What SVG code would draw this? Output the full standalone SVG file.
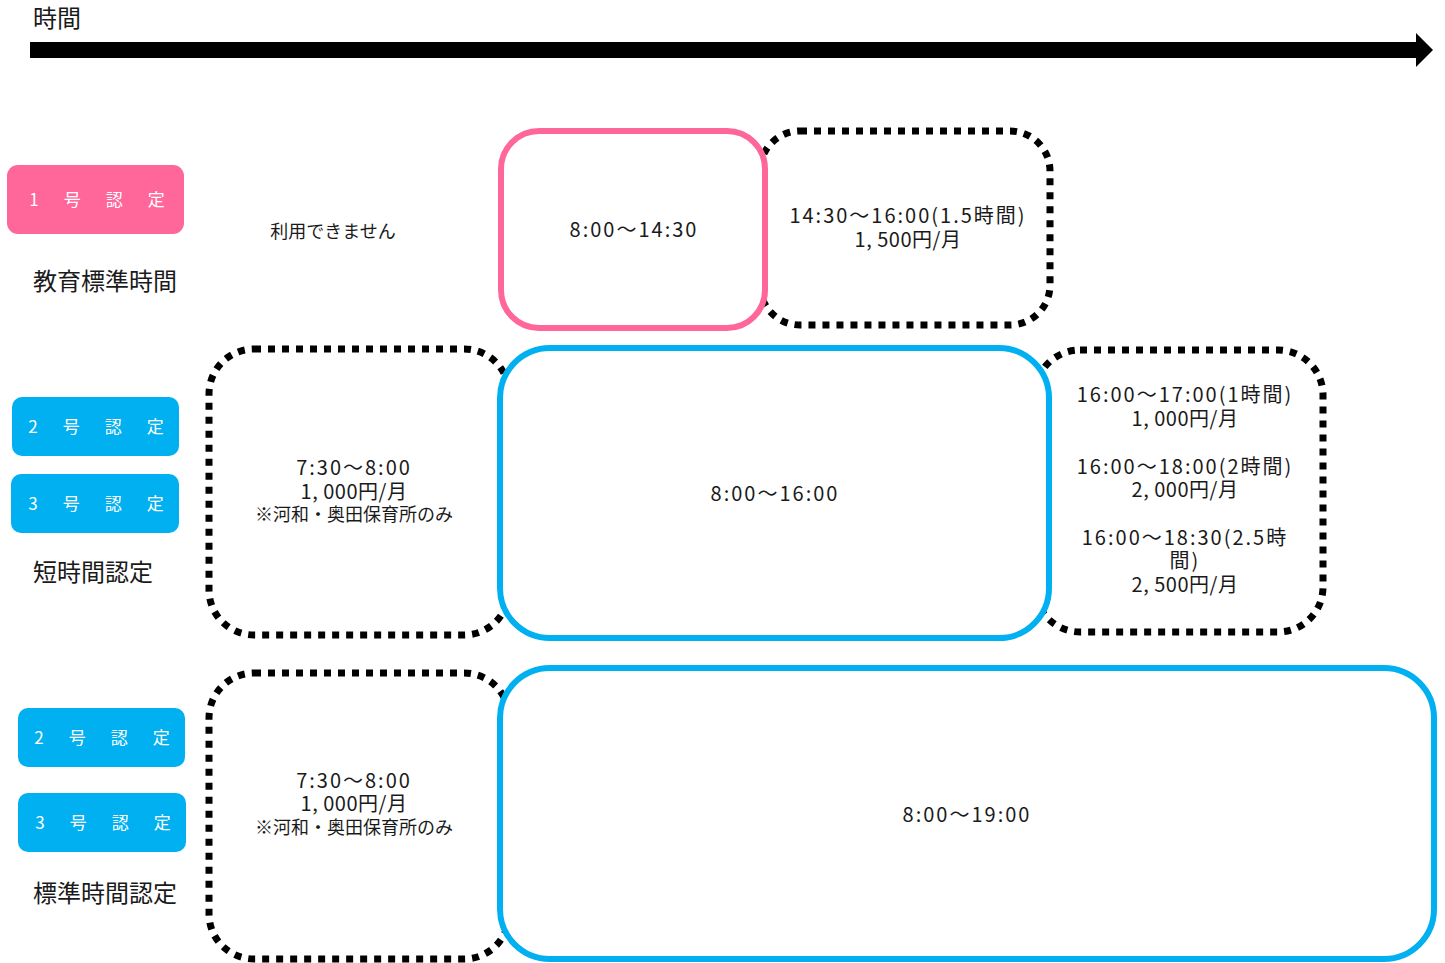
<svg xmlns="http://www.w3.org/2000/svg" width="1445" height="963" viewBox="0 0 1445 963">
<style>
text{font-family:"Noto Sans CJK JP","Noto Sans",sans-serif;fill:#1a1a1a}
.t{font-size:20px;text-anchor:middle;letter-spacing:2px}
.y{font-size:20px;letter-spacing:0.5px}
.s{font-size:18px;letter-spacing:0}
.s1{font-size:18px;text-anchor:middle}
.lbl{font-size:24px}
.badge{font-size:17px;fill:#fff;text-anchor:middle;letter-spacing:4px}
.dot{fill:none;stroke:#000;stroke-width:7;stroke-dasharray:7 7}
.pink{fill:#fff;stroke:#FF6699;stroke-width:6}
.blue{fill:#fff;stroke:#00B0F0;stroke-width:6}
</style>
<rect width="1445" height="963" fill="#fff"/>
<g id="timeaxis">
<text class="lbl" x="33" y="27">時間</text>
<polygon points="30,42 1416,42 1416,33 1433,50 1416,67 1416,58 30,58" fill="#000"/>
</g>
<g id="row1-labels">
<rect x="7" y="165" width="177" height="69" rx="11" fill="#FF6699"/>
<text class="badge" x="99" y="206">1　号　認　定</text>
<text class="lbl" x="33" y="290">教育標準時間</text>
<text class="s1" x="333" y="238">利用できません</text>
</g>
<g id="row1-extra">
<rect class="dot" x="760" y="131" width="290" height="194" rx="40"/>
<text class="t"><tspan x="908" y="223">14:30〜16:00(1.5時間)</tspan><tspan class="y" x="908" y="247">1, 500円/月</tspan></text>
</g>
<g id="row1-main">
<rect class="pink" x="501" y="131" width="264" height="197" rx="38"/>
<text class="t" x="634" y="237">8:00〜14:30</text>
</g>
<g id="row2-labels">
<rect x="12" y="397" width="167" height="59" rx="10" fill="#00B0F0"/>
<text class="badge" x="98" y="433">2　号　認　定</text>
<rect x="11" y="474" width="168" height="59" rx="10" fill="#00B0F0"/>
<text class="badge" x="98" y="510">3　号　認　定</text>
<text class="lbl" x="33" y="581">短時間認定</text>
</g>
<g id="row2-early">
<rect class="dot" x="209" y="349" width="300" height="286" rx="45"/>
<text class="t"><tspan x="354" y="475">7:30〜8:00</tspan><tspan class="y" x="354" y="499">1, 000円/月</tspan><tspan class="s" x="354" y="521">※河和・奥田保育所のみ</tspan></text>
</g>
<g id="row2-late">
<rect class="dot" x="1035" y="350" width="288" height="282" rx="45"/>
<text class="t"><tspan x="1185" y="402">16:00〜17:00(1時間)</tspan><tspan class="y" x="1185" y="426">1, 000円/月</tspan><tspan x="1185" y="474">16:00〜18:00(2時間)</tspan><tspan class="y" x="1185" y="497">2, 000円/月</tspan><tspan x="1185" y="545">16:00〜18:30(2.5時</tspan><tspan x="1185" y="568">間)</tspan><tspan class="y" x="1185" y="592">2, 500円/月</tspan></text>
</g>
<g id="row2-main">
<rect class="blue" x="500" y="348" width="549" height="290" rx="50"/>
<text class="t" x="775" y="501">8:00〜16:00</text>
</g>
<g id="row3-labels">
<rect x="18" y="708" width="167" height="59" rx="10" fill="#00B0F0"/>
<text class="badge" x="104" y="744">2　号　認　定</text>
<rect x="18" y="793" width="168" height="59" rx="10" fill="#00B0F0"/>
<text class="badge" x="105" y="829">3　号　認　定</text>
<text class="lbl" x="33" y="902">標準時間認定</text>
</g>
<g id="row3-early">
<rect class="dot" x="209" y="673" width="300" height="286" rx="45"/>
<text class="t"><tspan x="354" y="788">7:30〜8:00</tspan><tspan class="y" x="354" y="811">1, 000円/月</tspan><tspan class="s" x="354" y="834">※河和・奥田保育所のみ</tspan></text>
</g>
<g id="row3-main">
<rect class="blue" x="500" y="668" width="934" height="291" rx="50"/>
<text class="t" x="967" y="822">8:00〜19:00</text>
</g>
<g id="connectors"/>
</svg>
